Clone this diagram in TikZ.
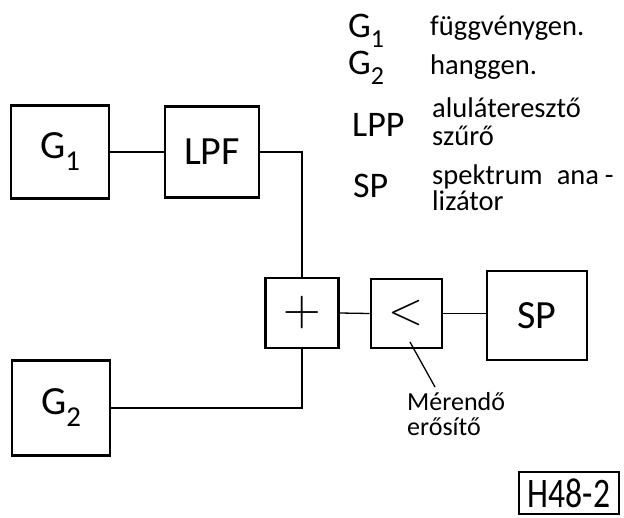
\documentclass[tikz,border=0pt]{standalone}
\usepackage{fontspec}
\setmainfont{Carlito}
\usepackage{graphicx}
\newcommand\lsub[1]{\raisebox{-0.3em}{\scalebox{0.72}{#1}}}
\newcommand\fsz[1]{\fontsize{#1}{#1}\selectfont}
\newcommand\lmsym{\fontfamily{lmr}\selectfont}
\tikzset{
  blk/.style={draw, line width=2.6pt, inner sep=0pt, font=\fsz{40}},
  wire/.style={line width=1.3pt},
  legbig/.style={anchor=base west, inner sep=0pt, font=\fsz{36}},
  legtxt/.style={anchor=base west, inner sep=0pt, font=\fsz{28.5}},
  lbl/.style={anchor=base west, inner sep=0pt, font=\fsz{26}}
}
\begin{document}
\begin{tikzpicture}[x=1pt,y=-1pt]
\useasboundingbox (0,0) rectangle (624,517);
% blocks
\node[blk, minimum width=98pt, minimum height=93pt] (g1) at (60,152) {G\lsub{1}};
\node[blk, minimum width=94pt, minimum height=91pt] (lpf) at (212,152) {LPF};
\node[blk, minimum width=73pt, minimum height=70pt, font=\fsz{52}\lmsym] (sum) at (302,313) {+};
\node[blk, minimum width=71pt, minimum height=69pt, font=\fsz{46}\lmsym] (amp) at (406.5,313.5) {<};
\node[blk, minimum width=100pt, minimum height=89pt] (sp) at (537,315.5) {SP};
\node[blk, minimum width=98pt, minimum height=95pt] (g2) at (61,408) {G\lsub{2}};
% connectors
\draw[wire] (g1.east) -- (lpf.west);
\draw[wire] (lpf.east) -| (sum.north);
\draw[wire] (g2.east) -| (sum.south);
\draw[wire] (sum.east) -- (amp.west);
\draw[wire] (amp.east) -- (amp.east -| sp.west);
% amplifier label
\coordinate (ldA) at (410,342);
\coordinate (ldB) at (435,387);
\draw[wire] (ldA) -- (ldB);
\node[lbl] (m1) at (407,410) {Mérendő};
\node[lbl] (m2) at (407,435) {erősítő};
% legend
\node[legbig] (lg1) at (348,37) {G\lsub{1}};
\node[legtxt] (lt1) at (430,35) {függvénygen.};
\node[legbig] (lg2) at (348,74) {G\lsub{2}};
\node[legtxt] (lt2) at (430,74) {hanggen.};
\node[legbig] (lg3) at (352,136) {LPP};
\node[legtxt] (lt3) at (432,117) {aluláteresztő};
\node[legtxt] (lt3b) at (432,145) {szűrő};
\node[legbig] (lg4) at (353,197) {SP};
\node[legtxt] (lt4) at (432,184) {spektrum\hspace{0.5em}ana\hspace{0.2em}-};
\node[legtxt] (lt4b) at (432,210) {lizátor};
% figure tag
\node[draw, line width=1.8pt, minimum width=100pt, minimum height=42pt, inner sep=0pt, font=\fsz{42}] (tag) at (569,493) {\scalebox{0.8}[1]{H48-2}};
\end{tikzpicture}
\end{document}
